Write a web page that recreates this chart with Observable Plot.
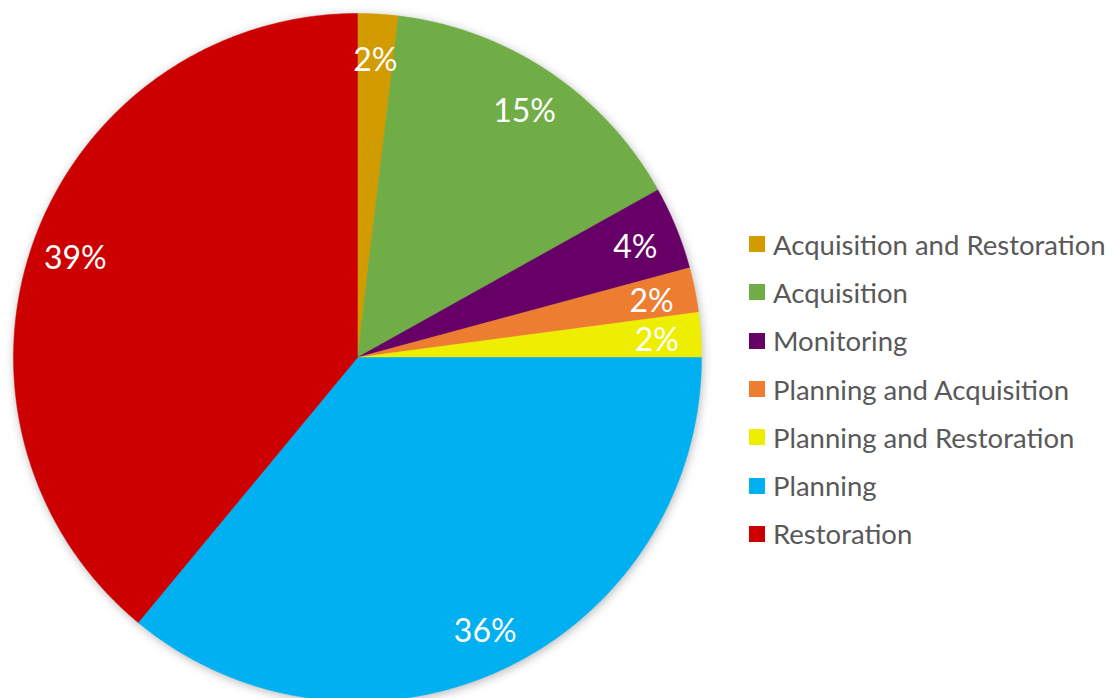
<!DOCTYPE html>
<html>
<head>
<meta charset="utf-8">
<script src="https://cdn.jsdelivr.net/npm/d3@7"></script>
<script src="https://cdn.jsdelivr.net/npm/@observablehq/plot@0.6"></script>
<style>
  html, body { margin: 0; padding: 0; background: #ffffff; }
  #wrap { position: relative; width: 1117px; height: 698px; overflow: hidden; }
  #legend { position: absolute; left: 749px; top: 220px; font-family: Lato, "Open Sans", sans-serif; font-size: 27.5px; color: #595959; }
  .item { display: flex; align-items: center; height: 48.3px; white-space: nowrap; }
  .sw { width: 16px; height: 16px; margin-right: 8px; flex: none; }
</style>
</head>
<body>
<div id="wrap"><div id="chart"></div><div id="legend"></div></div>
<script>
const categories = ["Acquisition and Restoration", "Acquisition", "Monitoring", "Planning and Acquisition", "Planning and Restoration", "Planning", "Restoration"];
const values = [1.9, 15.0, 3.9, 2.1, 2.1, 36.0, 39.0];
const colors = ["#D29B00", "#70AD47", "#660066", "#ED7D31", "#EEEE00", "#00B0F0", "#CC0000"];

const total = d3.sum(values);
const pie = d3.pie().sort(null).value(d => d.value)(categories.map((c, i) => ({category: c, value: values[i]})));

const points = [];
for (const a of pie) {
  const c = a.data.category;
  points.push({category: c, x: 0, y: 0});
  const n = Math.max(2, Math.ceil((a.endAngle - a.startAngle) / (Math.PI / 360)));
  for (let k = 0; k <= n; k++) {
    const t = a.startAngle + (a.endAngle - a.startAngle) * k / n;
    points.push({category: c, x: Math.sin(t), y: Math.cos(t)});
  }
  points.push({category: c, x: 0, y: 0});
}
const labels = pie.map(a => {
  const m = (a.startAngle + a.endAngle) / 2;
  return {x: 0.872 * Math.sin(m), y: 0.872 * Math.cos(m), text: Math.round(a.data.value / total * 100) + "%"};
});

const cx = 357, cy = 357, r = 344;
const chart = Plot.plot({
  width: 720,
  height: 698,
  margin: 0,
  x: {domain: [-1, 1], range: [cx - r, cx + r], axis: null},
  y: {domain: [-1, 1], range: [cy + r, cy - r], axis: null},
  color: {domain: categories, range: colors},
  marks: [
    Plot.line(points, {x: "x", y: "y", z: "category", fill: "category", stroke: "category", strokeWidth: 0.5, curve: "linear"}),
    Plot.text(labels, {x: "x", y: "y", dy: 3, text: "text", fill: "white", fontSize: 32, fontFamily: "Lato, 'Open Sans', sans-serif"})
  ]
});
const g = chart.querySelector('g[aria-label="line"]');
if (g) g.style.filter = "drop-shadow(1px 2px 5px rgba(0,0,0,0.28))";
document.getElementById("chart").appendChild(chart);

const legend = document.getElementById("legend");
categories.forEach((c, i) => {
  const item = document.createElement("div");
  item.className = "item";
  const sw = document.createElement("span");
  sw.className = "sw";
  sw.style.background = colors[i];
  const tx = document.createElement("span");
  tx.textContent = c;
  item.appendChild(sw);
  item.appendChild(tx);
  legend.appendChild(item);
});
</script>
</body>
</html>
